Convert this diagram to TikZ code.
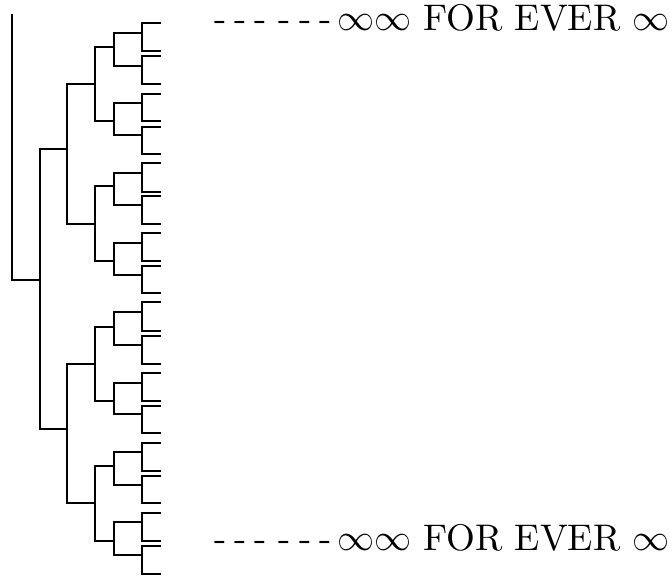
\documentclass[tikz,border=0pt]{standalone}
\begin{document}
\begin{tikzpicture}[x=0.27pt,y=-0.27pt,line width=0.3pt,
  branch/.style={draw=black,line width=0.3pt},
  label/.style={anchor=base west,inner sep=0pt,font=\fontsize{10}{12}\selectfont}]
\useasboundingbox (0,0) rectangle (672,577);
% leaves
\foreach \y [count=\i] in {23,51,56,84,94,121,127,154,163,192,196,224,233,261,266,293,302,331,336,364,373,401,406,433,443,471,476,503,513,541,546,574}
  \coordinate (L\i) at (161,\y);
% level 5
\foreach \y [count=\i] in {33,66,103,135,173,205,243,275,312,345,383,414,452,485,522,555}
  \coordinate (E\i) at (142,\y);
% level 4
\foreach \y [count=\i] in {47,121,186,261,327,401,466,541}
  \coordinate (D\i) at (114,\y);
% level 3
\foreach \y [count=\i] in {84,224,364,503}
  \coordinate (C\i) at (95,\y);
% level 2
\coordinate (B1) at (67,149);
\coordinate (B2) at (67,429);
\coordinate (A) at (40,280);
\coordinate (R) at (12,14);
% edges
\foreach \i [evaluate=\i as \a using int(2*\i-1), evaluate=\i as \b using int(2*\i)] in {1,...,16}
  {\draw[branch] (E\i) |- (L\a); \draw[branch] (E\i) |- (L\b);}
\foreach \i [evaluate=\i as \a using int(2*\i-1), evaluate=\i as \b using int(2*\i)] in {1,...,8}
  {\draw[branch] (D\i) |- (E\a); \draw[branch] (D\i) |- (E\b);}
\foreach \i [evaluate=\i as \a using int(2*\i-1), evaluate=\i as \b using int(2*\i)] in {1,...,4}
  {\draw[branch] (C\i) |- (D\a); \draw[branch] (C\i) |- (D\b);}
\foreach \i [evaluate=\i as \a using int(2*\i-1), evaluate=\i as \b using int(2*\i)] in {1,2}
  {\draw[branch] (B\i) |- (C\a); \draw[branch] (B\i) |- (C\b);}
\draw[branch] (A) |- (B1);
\draw[branch] (A) |- (B2);
\draw[branch] (R) |- (A);
% labels
\node[label] (T1) at (214,31) {-\kern.21em-\kern.21em-\kern.32em-\kern.21em-\kern.21em-\kern.15em$\infty\infty$ FOR EVER $\infty$};
\node[label] (T2) at (214,551) {-\kern.21em-\kern.21em-\kern.32em-\kern.21em-\kern.21em-\kern.15em$\infty\infty$ FOR EVER $\infty$};
\end{tikzpicture}
\end{document}
